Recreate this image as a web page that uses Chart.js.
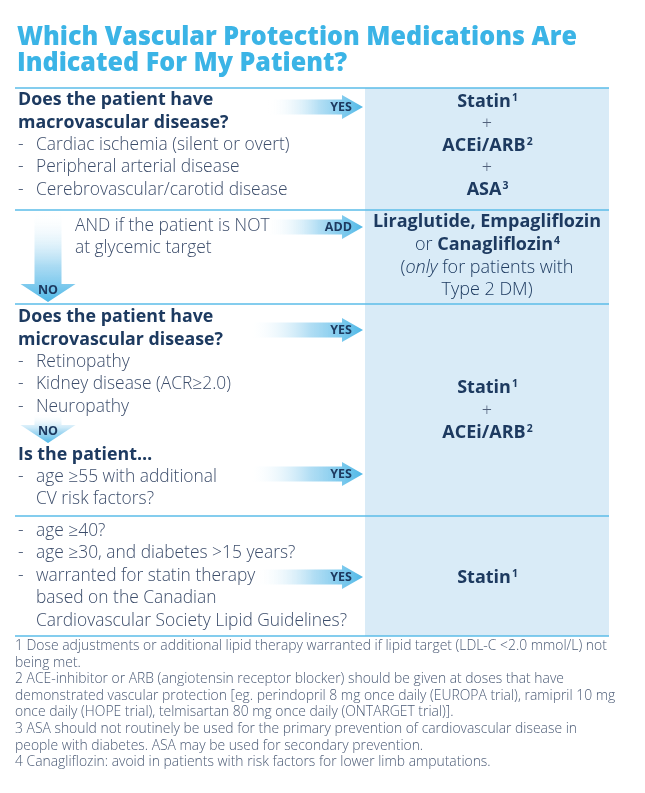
<!DOCTYPE html>
<html>
<head>
<meta charset="utf-8">
<script src="https://cdn.jsdelivr.net/npm/chart.js"></script>
<style>
  html, body { margin: 0; padding: 0; background: #fff; }
  canvas { display: block; }
</style>
</head>
<body>
<canvas id="flow" width="645" height="793"></canvas>
<script>
// --- content ---
const titleLines = ["Which Vascular Protection Medications Are", "Indicated For My Patient?"];
const macroQuestion = ["Does the patient have", "macrovascular disease?"];
const macroBullets = ["Cardiac ischemia (silent or overt)", "Peripheral arterial disease", "Cerebrovascular/carotid disease"];
const glycemicText = ["AND if the patient is NOT", "at glycemic target"];
const microQuestion = ["Does the patient have", "microvascular disease?"];
const microBullets = ["Retinopathy", "Kidney disease (ACR\u22652.0)", "Neuropathy"];
const ageQuestion = ["Is the patient\u2026"];
const ageBullets = [["age \u226555 with additional", "CV risk factors?"]];
const statinBullets = [["age \u226540?"], ["age \u226530, and diabetes >15 years?"],
  ["warranted for statin therapy", "based on the Canadian", "Cardiovascular Society Lipid Guidelines?"]];
const arrowLabels = ["YES", "ADD", "YES", "YES", "YES"];
const noLabels = ["NO", "NO"];

// treatments: each line is a list of runs (b = bold, i = italic, s = superscript, p = plus sign)
const treatMacro = [
  [{ t: "Statin", b: 1 }, { t: "1", b: 1, s: 1 }],
  [{ t: "+", p: 1 }],
  [{ t: "ACEi/ARB", b: 1 }, { t: "2", b: 1, s: 1 }],
  [{ t: "+", p: 1 }],
  [{ t: "ASA", b: 1 }, { t: "3", b: 1, s: 1 }]
];
const treatGlycemic = [
  [{ t: "Liraglutide, Empagliflozin", b: 1 }],
  [{ t: "or " }, { t: "Canagliflozin", b: 1 }, { t: "4", b: 1, s: 1 }],
  [{ t: "(" }, { t: "only", i: 1 }, { t: " for patients with" }],
  [{ t: "Type 2 DM)" }]
];
const treatMicro = [
  [{ t: "Statin", b: 1 }, { t: "1", b: 1, s: 1 }],
  [{ t: "+", p: 1 }],
  [{ t: "ACEi/ARB", b: 1 }, { t: "2", b: 1, s: 1 }]
];
const treatStatin = [
  [{ t: "Statin", b: 1 }, { t: "1", b: 1, s: 1 }]
];

const footnotes = [
  ["1 Dose adjustments or additional lipid therapy warranted if lipid target (LDL-C <2.0 mmol/L) not", "being met."],
  ["2 ACE-inhibitor or ARB (angiotensin receptor blocker) should be given at doses that have",
   "demonstrated vascular protection [eg. perindopril 8 mg once daily (EUROPA trial), ramipril 10 mg",
   "once daily (HOPE trial), telmisartan 80 mg once daily (ONTARGET trial)]."],
  ["3 ASA should not routinely be used for the primary prevention of cardiovascular disease in",
   "people with diabetes. ASA may be used for secondary prevention."],
  ["4 Canagliflozin: avoid in patients with risk factors for lower limb amputations."]
];

// --- style ---
const FONT = '"Open Sans", "Noto Sans", sans-serif';
const NAVY = "#1d3a60";
const BODY = "#3c4d6b";
const BLUE = "#4fb8e7";
const TITLE = "#3bb4e6";
const PANEL = "#d9ebf7";

function font(size, weight, italic) {
  return (italic ? "italic " : "") + weight + " " + size + "px " + FONT;
}

function runSize(r, size) {
  return r.s ? size * 0.58 : size;
}

function runsWidth(ctx, runs, size) {
  let w = 0;
  runs.forEach(r => {
    ctx.font = font(runSize(r, size), r.b ? 700 : 300, r.i);
    w += ctx.measureText(r.t).width;
  });
  return w;
}

function drawRuns(ctx, runs, cx, y, size, color) {
  let x = cx - runsWidth(ctx, runs, size) / 2;
  ctx.textAlign = "left";
  ctx.textBaseline = "middle";
  runs.forEach(r => {
    ctx.font = font(runSize(r, size), r.b ? 700 : 300, r.i);
    ctx.fillStyle = r.p ? "#51617b" : color;
    ctx.fillText(r.t, x + (r.s ? 1 : 0), r.s ? y - size * 0.22 : y);
    x += ctx.measureText(r.t).width;
  });
}

function hArrow(ctx, x0, tip, cy, label) {
  const hx = tip - 21, sh = 7.5, hh = 12;
  const g = ctx.createLinearGradient(x0, 0, tip, 0);
  g.addColorStop(0, "rgba(255,255,255,0)");
  g.addColorStop(0.55, "rgba(150,210,240,0.75)");
  g.addColorStop(1, BLUE);
  ctx.fillStyle = g;
  ctx.beginPath();
  ctx.moveTo(x0, cy - sh);
  ctx.lineTo(hx, cy - sh);
  ctx.lineTo(hx, cy - hh);
  ctx.lineTo(tip, cy);
  ctx.lineTo(hx, cy + hh);
  ctx.lineTo(hx, cy + sh);
  ctx.lineTo(x0, cy + sh);
  ctx.closePath();
  ctx.fill();
  ctx.font = font(12.5, 700);
  ctx.fillStyle = NAVY;
  ctx.textAlign = "right";
  ctx.textBaseline = "middle";
  ctx.fillText(label, tip - 11, cy + 0.5);
}

function vArrow(ctx, cx, y0, headY, tip, label) {
  const sw = 13.5, hw = 27.5;
  const g = ctx.createLinearGradient(0, y0, 0, tip);
  g.addColorStop(0, "rgba(255,255,255,0)");
  g.addColorStop(0.6, "rgba(150,210,240,0.8)");
  g.addColorStop(1, BLUE);
  ctx.fillStyle = g;
  ctx.beginPath();
  ctx.moveTo(cx - sw, y0);
  ctx.lineTo(cx + sw, y0);
  ctx.lineTo(cx + sw, headY);
  ctx.lineTo(cx + hw, headY);
  ctx.lineTo(cx, tip);
  ctx.lineTo(cx - hw, headY);
  ctx.lineTo(cx - sw, headY);
  ctx.closePath();
  ctx.fill();
  ctx.font = font(12.5, 700);
  ctx.fillStyle = NAVY;
  ctx.textAlign = "center";
  ctx.textBaseline = "middle";
  ctx.fillText(label, cx, headY + 6);
}

function lines(ctx, list, x, y0, step, size, weight, color) {
  ctx.font = font(size, weight);
  ctx.fillStyle = color;
  ctx.textAlign = "left";
  ctx.textBaseline = "middle";
  list.forEach((t, i) => ctx.fillText(t, x, y0 + i * step));
}

// bullets: groups of wrapped lines, dash only on the first line of a group
function bullets(ctx, groups, y0, step) {
  let k = 0;
  groups.forEach(g => {
    g.forEach((t, j) => {
      const y = y0 + k * step;
      ctx.font = font(17.4, 300);
      ctx.fillStyle = BODY;
      ctx.textAlign = "left";
      ctx.textBaseline = "middle";
      if (j === 0) ctx.fillText("-", 18, y);
      ctx.fillText(t, 36, y);
      k++;
    });
  });
}

const flowPlugin = {
  id: "flow",
  afterDraw(chart) {
    const ctx = chart.ctx;
    const X = v => chart.scales.x.getPixelForValue(v);
    const Y = v => chart.scales.y.getPixelForValue(v);
    ctx.save();

    // title, condensed to its printed width
    ctx.font = font(27, 800);
    const tw = ctx.measureText(titleLines[0]).width;
    const k = 560 / tw;
    ctx.fillStyle = TITLE;
    ctx.textAlign = "left";
    ctx.textBaseline = "middle";
    titleLines.forEach((t, i) => {
      ctx.save();
      ctx.translate(X(17), Y(37 + i * 26.5));
      ctx.scale(k, 1);
      ctx.fillText(t, 0, 0);
      ctx.restore();
    });

    // treatment column
    ctx.fillStyle = PANEL;
    ctx.fillRect(X(365), Y(88), X(609) - X(365), Y(636) - Y(88));

    // row rules
    ctx.strokeStyle = "#5bbde8";
    ctx.lineWidth = 1.5;
    [88, 210, 304, 516, 636].forEach(v => {
      ctx.beginPath();
      ctx.moveTo(X(15), Y(v));
      ctx.lineTo(X(609), Y(v));
      ctx.stroke();
    });

    // arrows (drawn under text)
    hArrow(ctx, X(268), X(363), Y(107), arrowLabels[0]);
    hArrow(ctx, X(265), X(363), Y(227), arrowLabels[1]);
    hArrow(ctx, X(247), X(363), Y(330), arrowLabels[2]);
    hArrow(ctx, X(247), X(363), Y(474), arrowLabels[3]);
    hArrow(ctx, X(255), X(363), Y(577), arrowLabels[4]);
    vArrow(ctx, X(48), Y(211), Y(284), Y(302), noLabels[0]);
    vArrow(ctx, X(48), Y(414), Y(425), Y(443), noLabels[1]);

    // left column
    lines(ctx, macroQuestion, X(18), Y(100), 22.5, 17.8, 700, NAVY);
    bullets(ctx, macroBullets.map(t => [t]), Y(145), 22.5);
    lines(ctx, glycemicText, X(75), Y(226), 22.5, 17.4, 300, BODY);
    lines(ctx, microQuestion, X(18), Y(317), 22.5, 17.8, 700, NAVY);
    bullets(ctx, microBullets.map(t => [t]), Y(362), 22.5);
    lines(ctx, ageQuestion, X(18), Y(455), 22.5, 17.8, 700, NAVY);
    bullets(ctx, ageBullets, Y(477), 22.5);
    bullets(ctx, statinBullets, Y(531), 22.5);

    // right column
    const cx = X(487);
    treatMacro.forEach((r, i) => drawRuns(ctx, r, cx, Y(102 + i * 22), 18, NAVY));
    treatGlycemic.forEach((r, i) => drawRuns(ctx, r, cx, Y(222 + i * 22.7), 18, NAVY));
    treatMicro.forEach((r, i) => drawRuns(ctx, r, cx, Y(388 + i * 22.5), 18, NAVY));
    treatStatin.forEach((r, i) => drawRuns(ctx, r, cx, Y(578 + i * 22), 18, NAVY));

    // footnotes
    let n = 0;
    footnotes.forEach(note => note.forEach(t => {
      ctx.font = font(13.9, 300);
      ctx.fillStyle = "#4a5a75";
      ctx.textAlign = "left";
      ctx.textBaseline = "middle";
      ctx.fillText(t, X(15), Y(646 + n * 16.6));
      n++;
    }));

    ctx.restore();
  }
};

new Chart(document.getElementById("flow"), {
  type: "scatter",
  data: { datasets: [{ data: [] }] },
  options: {
    responsive: false,
    animation: false,
    devicePixelRatio: 1,
    layout: { padding: 0 },
    plugins: { legend: { display: false }, tooltip: { enabled: false } },
    scales: {
      x: { type: "linear", min: 0, max: 645, display: false },
      y: { type: "linear", min: 0, max: 793, reverse: true, display: false }
    }
  },
  plugins: [flowPlugin]
});
</script>
</body>
</html>
